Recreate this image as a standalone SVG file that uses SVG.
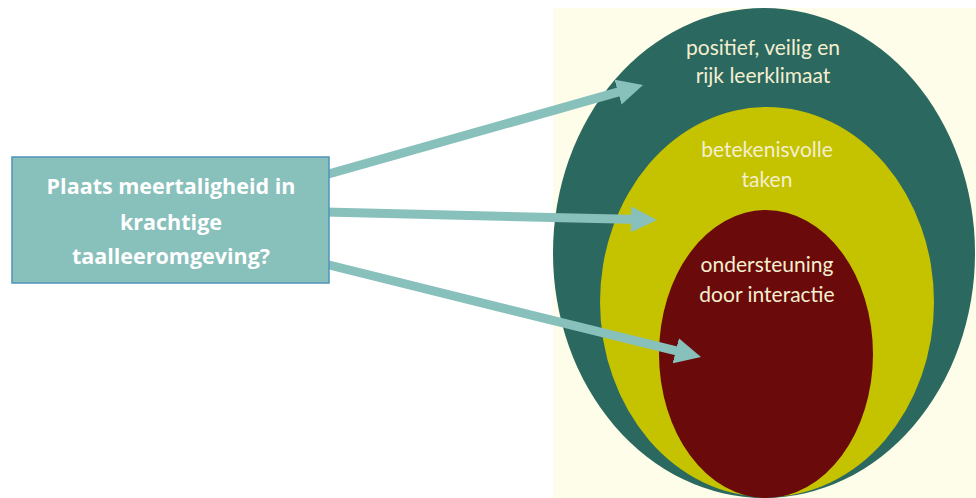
<svg xmlns="http://www.w3.org/2000/svg" width="976" height="498" viewBox="0 0 976 498">
<style>
.ring{font-family:Lato,"Open Sans","Liberation Sans",sans-serif;font-size:21px;fill:#f4efd0;text-anchor:middle}
.q{font-family:"Open Sans","Liberation Sans",sans-serif;font-weight:bold;font-size:21.5px;fill:#ffffff;text-anchor:middle}
.arr{stroke:#88c0bc;stroke-width:9;fill:none;marker-end:url(#head)}
</style>
<defs>
<marker id="head" viewBox="0 0 26 26" refX="8" refY="13" markerWidth="26" markerHeight="26" markerUnits="userSpaceOnUse" orient="auto">
<path d="M0,0 L26,13 L0,26 z" fill="#88c0bc"/>
</marker>
</defs>
<rect x="0" y="0" width="976" height="498" fill="#ffffff"/>
<rect x="553" y="8" width="423" height="490" fill="#fefde9"/>
<g id="outer">
<ellipse cx="764" cy="253" rx="211" ry="245" fill="#2b685f"/>
<text class="ring" x="763" y="55">positief, veilig en</text>
<text class="ring" x="763" y="83">rijk leerklimaat</text>
</g>
<g id="middle">
<ellipse cx="767" cy="302" rx="167" ry="195" fill="#c5c200"/>
<text class="ring" x="767" y="157">betekenisvolle</text>
<text class="ring" x="767" y="187">taken</text>
</g>
<g id="inner">
<ellipse cx="766" cy="354" rx="107" ry="144" fill="#6b0a0a"/>
<text class="ring" x="767" y="272">ondersteuning</text>
<text class="ring" x="767" y="302">door interactie</text>
</g>
<g id="connectors">
<line class="arr" x1="325" y1="175" x2="625.7" y2="89.9"/>
<line class="arr" x1="325" y1="212" x2="639" y2="219.6"/>
<line class="arr" x1="325" y1="264" x2="683.5" y2="352.7"/>
</g>
<g id="question">
<rect x="12" y="157" width="317" height="126" fill="#88c0bc" stroke="#4f93b8" stroke-width="1.5"/>
<text class="q" x="171" y="194">Plaats meertaligheid in</text>
<text class="q" x="171" y="230">krachtige</text>
<text class="q" x="171" y="264">taalleeromgeving?</text>
</g>
</svg>
